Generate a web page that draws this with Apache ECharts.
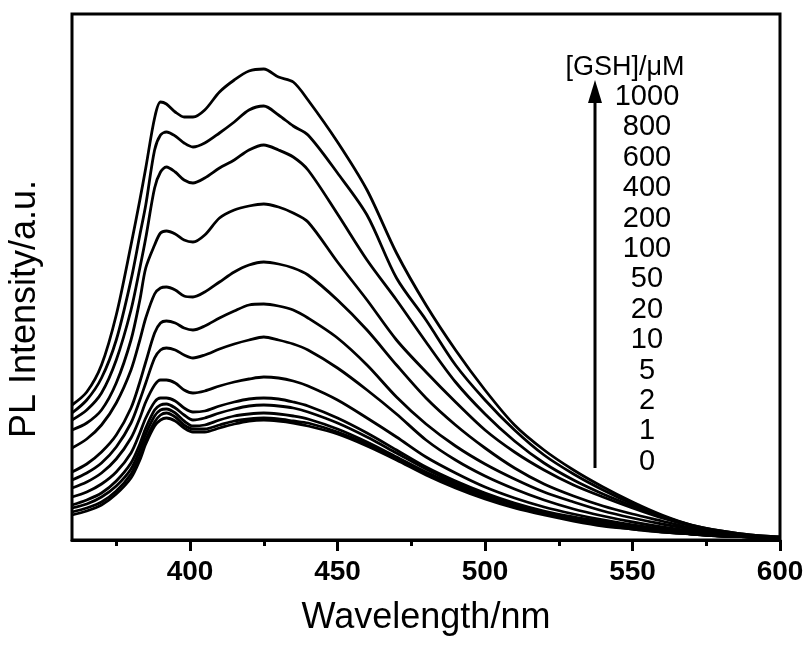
<!DOCTYPE html>
<html>
<head>
<meta charset="utf-8">
<script src="https://cdn.jsdelivr.net/npm/echarts@6/dist/echarts.min.js"></script>
<style>html,body{margin:0;padding:0;background:#fff;}#c{width:809px;height:648px;}</style>
</head>
<body>
<div id="c"></div>
<script>
// Wavelengths (nm)
const wavelengths = [360,365,370,375,380,383,385,388,390,392,395,398,401,405,410,415,420,425,430,435,440,450,460,470,480,490,500,510,520,530,540,550,560,570,580,590,600];
// [GSH] concentrations (µM), top curve first
const concentrations = ['1000','800','600','400','200','100','50','20','10','5','2','1','0'];
// PL intensity (a.u.)
const s1000 = [135,148,175,225,295,340,372,422,438,436,428,423,423,430,448,460,469,471,463,458,440,398,350,287,235,190,150,115,90,70,53,38,25,15,9,5,3];
const s800  = [127,140,162,200,260,305,335,390,405,408,404,397,393,397,407,418,430,434,425,414,405,367,325,262,220,175,140,110,85,66,50,36,24,15,9,5,3];
const s600  = [120,130,147,180,230,272,302,352,368,373,368,360,357,362,372,380,390,395,390,383,370,326,280,240,198,158,126,99,77,60,46,34,23,14,8,4,2];
const s400  = [110,117,130,157,200,240,272,295,307,309,306,300,298,305,322,330,334,336,333,327,318,278,240,200,168,138,110,88,70,55,43,32,22,14,8,4,2];
const s200  = [92,101,115,137,170,200,222,246,252,253,250,244,243,248,258,268,275,278,276,272,265,240,210,175,142,115,92,72,56,44,34,26,19,12,7,4,2];
const s100  = [68,76,88,105,132,158,178,207,217,219,217,212,210,214,222,229,235,236,234,230,222,202,175,143,116,94,76,61,48,38,29,22,16,11,7,4,2];
const s50   = [60,67,77,93,117,140,157,182,190,192,190,185,182,185,191,196,200,203,200,196,190,172,150,126,100,80,64,51,40,31,24,18,13,9,6,3,2];
const s20   = [52,58,67,81,102,122,138,155,160,160,157,150,147,149,154,158,161,163,162,159,154,140,122,103,83,67,53,42,33,26,20,15,11,8,5,3,2];
const s10   = [43,48,56,68,87,107,122,138,142,142,139,132,128,129,134,138,141,142,141,138,134,122,107,90,73,59,47,37,29,23,18,13,10,7,5,3,2];
const s5    = [35,40,47,59,77,96,112,130,135,136,132,125,120,122,127,131,134,135,134,132,128,117,103,87,71,57,45,36,28,22,17,13,9,6,4,3,2];
const s2    = [32,36,43,54,71,90,106,124,130,131,127,119,114,115,120,124,126,127,126,124,121,111,98,83,68,55,43,34,27,21,16,12,9,6,4,3,2];
const s1    = [28,32,38,49,66,84,100,118,125,127,123,115,111,111,115,119,121,122,121,119,117,108,96,81,66,53,42,33,26,20,15,11,8,6,4,3,2];
const s0    = [25,29,35,46,62,80,96,114,120,122,119,112,108,108,112,116,119,120,119,117,114,106,94,80,65,52,41,32,25,19,14,11,8,6,4,3,2];
const seriesValues = [s1000,s800,s600,s400,s200,s100,s50,s20,s10,s5,s2,s1,s0];
const majorTicks = [400,450,500,550,600];
const minorTicks = [375,425,475,525,575];

const FONT = '"Liberation Sans", Arial, sans-serif';
const chart = echarts.init(document.getElementById('c'), null, {renderer:'canvas'});

const series = seriesValues.map((vals, i) => ({
  name: concentrations[i],
  type: 'line',
  xAxisIndex: 0,
  showSymbol: false,
  smooth: 0.3,
  animation: false,
  lineStyle: {color: '#000', width: 2.8},
  data: wavelengths.map((w, j) => [w, vals[j]])
}));

const graphics = [
  {type:'text', x:25, y:309, rotation: Math.PI/2,
   style:{text:'PL Intensity/a.u.', font:'36px ' + FONT, fill:'#000', textAlign:'center', textVerticalAlign:'middle'}},
  {type:'text', x:625, y:68,
   style:{text:'[GSH]/\u03bcM', font:'27px ' + FONT, fill:'#000', textAlign:'center', textVerticalAlign:'middle'}},
  {type:'line', shape:{x1:595, y1:468, x2:595, y2:98}, style:{stroke:'#000', lineWidth:3}},
  {type:'polygon', shape:{points:[[595,80],[588,103],[602,103]]}, style:{fill:'#000'}}
];
concentrations.forEach((c, i) => {
  graphics.push({type:'text', x:647, y:97 + i*30.4,
    style:{text:c, font:'29px ' + FONT, fill:'#000', textAlign:'center', textVerticalAlign:'middle'}});
});

chart.setOption({
  animation: false,
  backgroundColor: '#fff',
  grid: {left:72, right:29, top:14, bottom:108, show:true, borderColor:'#000', borderWidth:3, backgroundColor:'transparent'},
  xAxis: [
    {type:'value', min:360, max:600, position:'bottom',
     name:'Wavelength/nm', nameLocation:'middle', nameGap:60,
     nameTextStyle:{fontFamily:FONT, fontSize:36, color:'#000'},
     axisLine:{show:true, lineStyle:{color:'#000', width:3}},
     axisTick:{show:true, customValues: majorTicks, length:11, lineStyle:{color:'#000', width:3}},
     axisLabel:{show:true, customValues: majorTicks, fontFamily:FONT, fontWeight:'bold', fontSize:28, color:'#000', margin:18},
     splitLine:{show:false}},
    {type:'value', min:360, max:600, position:'bottom',
     axisLine:{show:false},
     axisTick:{show:true, customValues: minorTicks, length:6, lineStyle:{color:'#000', width:3}},
     axisLabel:{show:false},
     splitLine:{show:false}}
  ],
  yAxis: {type:'value', min:0, max:526, axisLine:{show:false}, axisTick:{show:false}, axisLabel:{show:false}, splitLine:{show:false}},
  series: series,
  graphic: graphics
});
</script>
</body>
</html>
